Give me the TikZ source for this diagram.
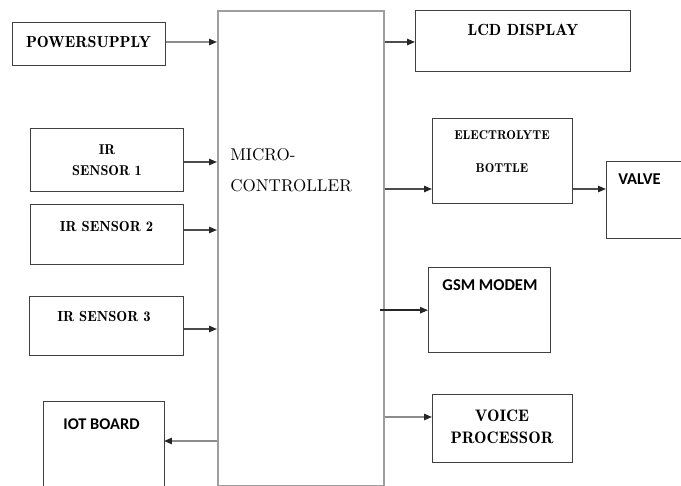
\documentclass[tikz,border=0pt]{standalone}
\usepackage{fontspec}
\newfontfamily\demifont{lmromandemi10-regular.otf}
\newfontfamily\calibfont{Carlito}
\usetikzlibrary{arrows.meta,positioning,calc}

\begin{document}
\begin{tikzpicture}[x=0.02cm,y=-0.02cm,
    blk/.style={draw=black!75,line width=0.8pt,inner sep=0pt,anchor=north west},
    lbl/.style={inner sep=0pt,align=center,
        font=\demifont\fontsize{#1}{#1}\selectfont},
    sans/.style={inner sep=0pt,anchor=base,
        font=\calibfont\bfseries\fontsize{#1}{#1}\selectfont},
    arr/.style={-{Triangle[length=4.5pt,width=3.6pt,color=black!85]},line width=0.8pt,draw=black!70}]
\useasboundingbox (0,0) rectangle (681,486);
\clip (0,0) rectangle (681,486);

% controller in the middle
\node[blk,draw=black!38,line width=1.1pt,minimum width=3.32cm,minimum height=9.5cm]
    (mc) at (217,10) {};
\node[inner sep=0pt,anchor=west,align=left,
    font=\fontsize{9.7}{17.6}\selectfont] (mc-t) at (230,170) {MICRO-\\CONTROLLER};

% inputs
\node[blk,minimum width=3.06cm,minimum height=0.86cm] (pwr) at (12,22) {};
\node[lbl=9.1,anchor=base] (pwr-t) at (88.5,48) {POWERSUPPLY};
\node[blk,minimum width=3.06cm,minimum height=1.26cm] (ir1) at (30,128) {};
\node[lbl=8,font=\demifont\fontsize{8.1}{12}\selectfont] (ir1-t) at (107,160) {IR\\SENSOR 1};
\node[blk,minimum width=3.06cm,minimum height=1.2cm] (ir2) at (30,204) {};
\node[lbl=8.3,anchor=base] (ir2-t) at (106.5,232) {IR SENSOR 2};
\node[blk,minimum width=3.08cm,minimum height=1.18cm] (ir3) at (29,296) {};
\node[lbl=8.3,anchor=base] (ir3-t) at (104,322) {IR SENSOR 3};
\node[blk,minimum width=2.42cm,minimum height=1.8cm] (iot) at (43,401) {};
\node[sans=9.3] (iot-t) at (101.5,430) {IOT BOARD};

% outputs
\node[blk,minimum width=4.3cm,minimum height=1.22cm] (lcd) at (415,10) {};
\node[lbl=9.2,anchor=base] (lcd-t) at (523,36) {LCD DISPLAY};
\node[blk,minimum width=2.8cm,minimum height=1.7cm] (ele) at (432,118) {};
\node[lbl=7,font=\demifont\fontsize{7.3}{19}\selectfont] (ele-t) at (502,151.5)
    {ELECTROLYTE\\BOTTLE};
\node[blk,minimum width=2.0cm,minimum height=1.54cm] (valve) at (606,161) {};
\node[sans=9.4] (valve-t) at (639.5,185) {VALVE};
\node[blk,minimum width=2.44cm,minimum height=1.7cm] (gsm) at (428,267) {};
\node[sans=9.4] (gsm-t) at (490,291) {GSM MODEM};
\node[blk,minimum width=2.8cm,minimum height=1.36cm] (voice) at (432,394) {};
\node[lbl=9.2,font=\demifont\fontsize{9.5}{12.5}\selectfont] (voice-t) at (502,427)
    {VOICE\\PROCESSOR};

\coordinate (ele-in) at (432,189);
\coordinate (voice-in) at (432,417);
\coordinate (iot-in) at (164,441);

\draw[arr,draw=black!45] (pwr.east |- 0,42) -- (mc.west |- 0,42);
\draw[arr] (ir1.east |- 0,162) -- (mc.west |- 0,162);
\draw[arr] (ir2.east |- 0,230) -- (mc.west |- 0,230);
\draw[arr] (ir3.east |- 0,329) -- (mc.west |- 0,329);
\draw[arr,draw=black!45] (mc.west |- iot-in) -- (iot-in);
\draw[arr] (mc.east |- 0,42) -- (lcd.west |- 0,42);
\draw[arr] (mc.east |- ele-in) -- (ele-in);
\draw[arr] (ele.east |- ele-in) -- (valve.west |- ele-in);
\draw[arr,draw=black!85] ([xshift=-3pt]mc.east |- gsm.west) -- (gsm.west);
\draw[arr,draw=black!45] (mc.east |- voice-in) -- (voice-in);
\end{tikzpicture}
\end{document}
